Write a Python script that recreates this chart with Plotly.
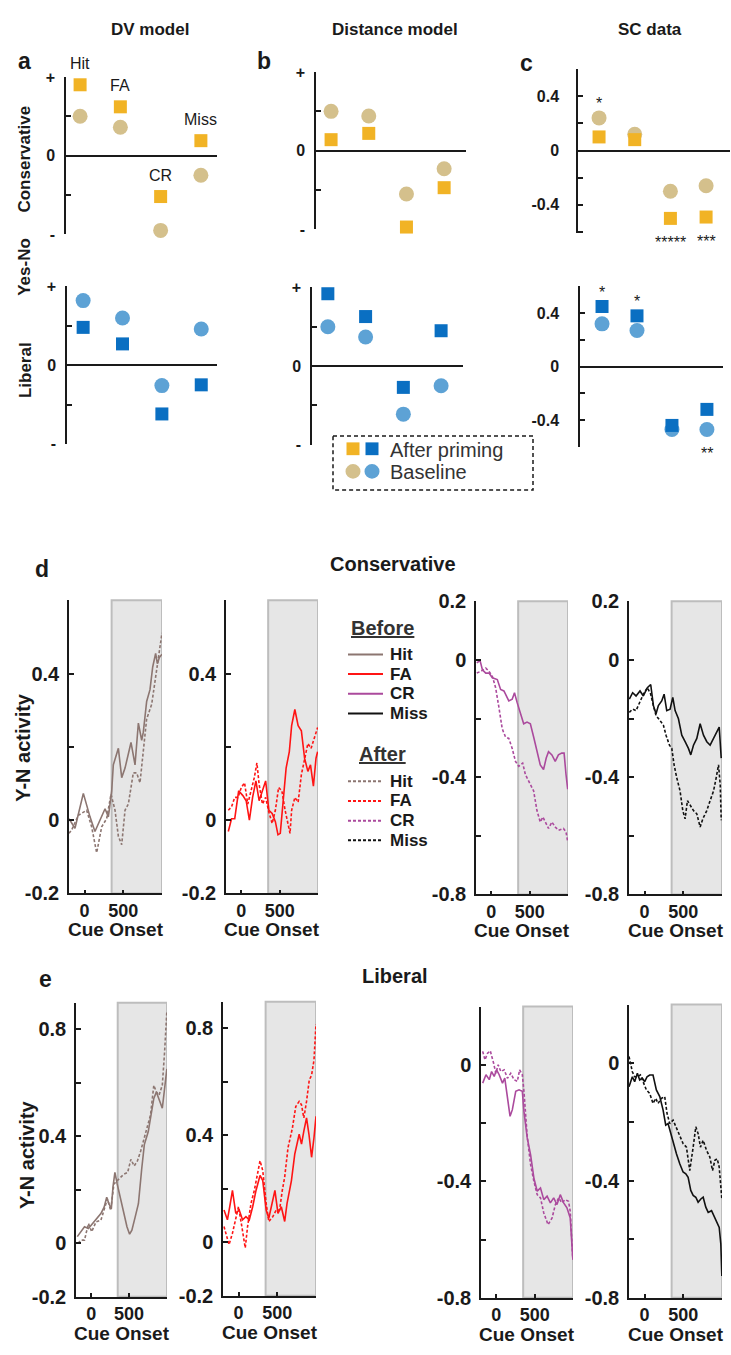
import plotly.graph_objects as go

W, H = 731, 1355
FONT = "Liberation Sans, Arial, Helvetica, sans-serif"
INK = "#1a1a1a"

# ---------------- top row data (relative Yes-No activity) ----------------
categories = ["Hit", "FA", "CR", "Miss"]
cat_pos = [1, 2, 3, 4]

dv_cons_after = [0.90, 0.62, -0.52, 0.19]
dv_cons_base = [0.50, 0.36, -0.95, -0.25]
dv_lib_after = [0.48, 0.27, -0.62, -0.25]
dv_lib_base = [0.82, 0.60, -0.26, 0.46]

dist_cons_after = [0.14, 0.22, -0.97, -0.47]
dist_cons_base = [0.50, 0.44, -0.55, -0.23]
dist_lib_after = [0.92, 0.63, -0.27, 0.45]
dist_lib_base = [0.50, 0.37, -0.61, -0.25]

sc_cons_after = [0.10, 0.08, -0.50, -0.49]
sc_cons_base = [0.24, 0.12, -0.30, -0.26]
sc_lib_after = [0.45, 0.38, -0.44, -0.32]
sc_lib_base = [0.32, 0.27, -0.47, -0.47]
sc_cons_stars = ["*", "", "*****", "***"]
sc_lib_stars = ["*", "*", "", "**"]

# ---------------- time courses (ms from cue onset, Y-N activity) ----------------
shade_start, shade_end = 350, 1000

cons_hit_before_t = [-200, -123, -15, 71, 135, 200, 265, 308, 351, 372, 415, 437, 480, 523, 600, 652, 695, 738, 759, 802, 845, 880, 918, 940, 966, 1000]
cons_hit_before_v = [0.004, -0.022, 0.073, 0.009, -0.031, 0.0, 0.031, 0.009, 0.08, 0.151, 0.182, 0.196, 0.116, 0.142, 0.212, 0.151, 0.265, 0.218, 0.24, 0.324, 0.356, 0.418, 0.455, 0.427, 0.444, 0.453]
cons_hit_after_t = [-200, -166, -80, 28, 92, 157, 222, 286, 342, 394, 437, 480, 523, 566, 630, 673, 716, 759, 802, 867, 910, 953, 1000]
cons_hit_after_v = [-0.036, -0.027, 0.013, 0.027, -0.018, -0.089, -0.018, 0.004, 0.071, 0.027, -0.044, -0.067, 0.027, 0.044, 0.129, 0.129, 0.102, 0.187, 0.276, 0.316, 0.382, 0.436, 0.511]

cons_fa_before_t = [-170, -128, -86, -35, 20, 63, 105, 147, 190, 232, 275, 317, 359, 402, 444, 478, 508, 542, 584, 626, 656, 698, 741, 783, 825, 868, 902, 940, 974, 995]
cons_fa_before_v = [-0.031, 0.004, 0.004, 0.08, 0.067, 0.053, 0.0, 0.062, 0.107, 0.053, 0.08, 0.107, 0.027, 0.018, -0.004, -0.04, -0.036, 0.036, 0.142, 0.187, 0.258, 0.302, 0.258, 0.244, 0.169, 0.133, 0.151, 0.093, 0.169, 0.187]
cons_fa_after_t = [-170, -128, -86, -43, -1, 42, 84, 126, 169, 203, 232, 275, 317, 359, 402, 444, 486, 529, 571, 635, 656, 698, 741, 783, 825, 868, 910, 953, 995]
cons_fa_after_v = [0.027, 0.036, 0.062, 0.062, 0.089, 0.102, 0.044, 0.08, 0.116, 0.156, 0.098, 0.044, 0.062, 0.022, -0.009, 0.027, 0.089, 0.08, 0.027, -0.036, 0.027, 0.062, 0.049, 0.124, 0.169, 0.209, 0.196, 0.222, 0.253]

cons_cr_before_t = [-190, -147, -116, -73, -30, 13, 78, 121, 164, 228, 272, 302, 336, 379, 422, 466, 509, 552, 595, 638, 681, 716, 746, 790, 833, 875, 918, 949, 974, 996]
cons_cr_before_v = [-0.01, -0.002, -0.034, -0.045, -0.045, -0.061, -0.067, -0.101, -0.106, -0.14, -0.134, -0.112, -0.145, -0.184, -0.218, -0.212, -0.218, -0.263, -0.313, -0.358, -0.374, -0.335, -0.313, -0.324, -0.346, -0.324, -0.318, -0.318, -0.391, -0.441]
cons_cr_after_t = [-190, -138, -73, -30, 13, 56, 99, 142, 185, 228, 272, 315, 358, 409, 444, 487, 517, 552, 595, 638, 672, 703, 746, 790, 833, 875, 940, 974, 996]
cons_cr_after_v = [-0.045, -0.039, -0.028, -0.039, -0.056, -0.095, -0.162, -0.235, -0.263, -0.268, -0.302, -0.346, -0.363, -0.352, -0.391, -0.413, -0.43, -0.447, -0.514, -0.553, -0.536, -0.553, -0.575, -0.553, -0.57, -0.581, -0.575, -0.587, -0.62]

cons_miss_before_t = [-196, -153, -109, -58, -15, 37, 80, 115, 149, 179, 222, 253, 287, 330, 365, 395, 438, 481, 524, 567, 597, 632, 675, 718, 761, 804, 847, 891, 934, 964, 990]
cons_miss_before_v = [-0.134, -0.112, -0.123, -0.106, -0.123, -0.095, -0.084, -0.156, -0.184, -0.156, -0.14, -0.117, -0.173, -0.168, -0.128, -0.173, -0.201, -0.257, -0.279, -0.302, -0.324, -0.291, -0.268, -0.218, -0.257, -0.279, -0.291, -0.268, -0.246, -0.229, -0.335]
cons_miss_after_t = [-196, -153, -109, -58, -15, 37, 80, 115, 149, 201, 244, 278, 322, 352, 382, 416, 459, 494, 524, 554, 589, 632, 675, 718, 753, 804, 847, 891, 925, 955, 977, 990]
cons_miss_after_v = [-0.179, -0.168, -0.173, -0.14, -0.117, -0.095, -0.117, -0.156, -0.19, -0.207, -0.223, -0.257, -0.291, -0.302, -0.358, -0.402, -0.447, -0.514, -0.542, -0.48, -0.497, -0.514, -0.525, -0.57, -0.542, -0.514, -0.48, -0.447, -0.402, -0.358, -0.425, -0.547]

lib_hit_before_t = [-183, -131, -88, -36, 20, 84, 128, 171, 205, 235, 266, 287, 313, 343, 386, 429, 472, 507, 537, 580, 623, 666, 701, 753, 796, 826, 860, 895, 938, 968, 998]
lib_hit_before_v = [0.025, 0.043, 0.062, 0.055, 0.074, 0.098, 0.111, 0.135, 0.172, 0.148, 0.129, 0.209, 0.265, 0.222, 0.172, 0.111, 0.062, 0.034, 0.049, 0.098, 0.148, 0.277, 0.369, 0.418, 0.492, 0.542, 0.566, 0.535, 0.505, 0.578, 0.652]
lib_hit_after_t = [-174, -131, -88, -36, 7, 63, 128, 179, 214, 257, 300, 343, 386, 429, 481, 524, 567, 610, 653, 697, 740, 783, 826, 860, 895, 938, 968, 998]
lib_hit_after_v = [0.0, 0.012, 0.012, 0.074, 0.043, 0.08, 0.086, 0.129, 0.166, 0.123, 0.222, 0.234, 0.246, 0.258, 0.265, 0.314, 0.289, 0.308, 0.345, 0.394, 0.443, 0.48, 0.591, 0.566, 0.554, 0.591, 0.714, 0.868]

lib_fa_before_t = [-187, -143, -113, -78, -35, 9, 52, 96, 139, 183, 226, 278, 313, 357, 391, 422, 470, 509, 552, 596, 626, 683, 726, 783, 813, 843, 878, 909, 943, 974, 1000]
lib_fa_before_v = [0.121, 0.084, 0.133, 0.194, 0.108, 0.121, 0.084, 0.096, 0.084, 0.133, 0.194, 0.25, 0.231, 0.121, 0.09, 0.133, 0.194, 0.108, 0.133, 0.078, 0.145, 0.231, 0.33, 0.404, 0.367, 0.416, 0.465, 0.404, 0.318, 0.391, 0.471]
lib_fa_after_t = [-187, -157, -122, -78, -35, 0, 43, 87, 117, 161, 204, 248, 278, 313, 357, 391, 443, 487, 530, 565, 596, 639, 696, 739, 783, 813, 843, 878, 913, 943, 974, 1000]
lib_fa_after_v = [0.059, 0.022, -0.009, 0.034, 0.096, 0.133, 0.059, -0.021, 0.059, 0.145, 0.194, 0.268, 0.305, 0.268, 0.145, 0.078, 0.096, 0.121, 0.121, 0.194, 0.244, 0.354, 0.428, 0.508, 0.527, 0.514, 0.465, 0.527, 0.607, 0.625, 0.681, 0.816]

lib_cr_before_t = [-178, -135, -92, -62, -28, 3, 37, 80, 110, 145, 179, 209, 253, 296, 339, 360, 403, 447, 490, 533, 576, 619, 662, 705, 748, 791, 834, 878, 921, 964, 998]
lib_cr_before_v = [-0.063, -0.034, -0.051, -0.023, -0.04, -0.017, -0.034, -0.063, -0.046, -0.114, -0.177, -0.154, -0.091, -0.086, -0.091, -0.16, -0.251, -0.309, -0.389, -0.434, -0.423, -0.463, -0.451, -0.474, -0.457, -0.48, -0.446, -0.474, -0.491, -0.526, -0.669]
lib_cr_after_t = [-178, -148, -114, -79, -36, -6, 24, 59, 102, 145, 188, 231, 274, 304, 339, 360, 403, 447, 490, 533, 576, 619, 675, 727, 770, 813, 856, 899, 942, 964, 998]
lib_cr_after_v = [0.046, 0.017, 0.04, 0.048, 0.006, -0.029, 0.0, -0.023, -0.017, -0.046, -0.029, -0.051, -0.057, -0.017, -0.034, -0.091, -0.246, -0.343, -0.4, -0.446, -0.457, -0.509, -0.549, -0.526, -0.48, -0.457, -0.474, -0.463, -0.469, -0.503, -0.669]

lib_miss_before_t = [-200, -157, -127, -92, -62, -28, 3, 33, 67, 110, 153, 197, 240, 274, 304, 334, 369, 412, 455, 498, 533, 563, 597, 628, 662, 692, 727, 757, 791, 822, 865, 908, 938, 964, 985, 998]
lib_miss_before_v = [-0.08, -0.046, -0.063, -0.034, -0.057, -0.051, -0.063, -0.046, -0.04, -0.04, -0.091, -0.114, -0.16, -0.211, -0.206, -0.234, -0.274, -0.309, -0.343, -0.371, -0.377, -0.389, -0.434, -0.451, -0.457, -0.474, -0.463, -0.457, -0.491, -0.509, -0.503, -0.526, -0.543, -0.56, -0.617, -0.726]
lib_miss_after_t = [-200, -157, -127, -92, -53, -19, 24, 67, 110, 145, 175, 218, 261, 291, 326, 369, 412, 455, 498, 541, 584, 628, 662, 692, 722, 757, 800, 843, 878, 908, 938, 964, 985, 998]
lib_miss_after_v = [0.023, -0.029, -0.046, -0.046, -0.04, -0.063, -0.091, -0.103, -0.137, -0.12, -0.137, -0.12, -0.114, -0.171, -0.206, -0.194, -0.223, -0.251, -0.274, -0.286, -0.366, -0.286, -0.217, -0.24, -0.286, -0.263, -0.297, -0.32, -0.366, -0.331, -0.326, -0.354, -0.411, -0.463]

# ---------------- styles ----------------
ORANGE, TAN = "#F1B325", "#D4C08C"
BLUE, LBLUE = "#0A6FC2", "#5DA2D5"
HIT_C, FA_C, CR_C, MISS_C = "#8C7671", "#FF1414", "#AB4A9D", "#111111"
DASH = "3px,2px"


def xd(x0, x1):
    return [x0 / W, x1 / W]


def yd(y0, y1):
    return [1 - y1 / H, 1 - y0 / H]


def px(x, y):
    return x / W, 1 - y / H


fig = go.Figure()
lay = {}
shapes = []
anns = []


def text(t, x, y, size, bold=True, xanchor="center", angle=0, color=INK, yanchor="middle"):
    xx, yy = px(x, y)
    anns.append(dict(text=t, x=xx, y=yy, xref="paper", yref="paper", showarrow=False,
                     xanchor=xanchor, yanchor=yanchor, textangle=angle, borderpad=0,
                     font=dict(family=FONT, size=size, color=color,
                               weight="bold" if bold else "normal")))


# ---------------- top row panels ----------------
pm_tv, pm_tt = [-1, -0.5, 0, 0.5, 1], ["-", "", "0", "", "+"]
sc_tv, sc_tt = [-0.6, -0.4, -0.2, 0, 0.2, 0.4, 0.6], ["", "-0.4", "", "0", "", "0.4", ""]

top_specs = [
    (1, dv_cons_after, dv_cons_base, ORANGE, TAN, (66, 217), (67, 227), [0.65, 4.4], [-1, 1], pm_tv, pm_tt, 6),
    (2, dv_lib_after, dv_lib_base, BLUE, LBLUE, (67, 217), (280, 440), [0.59, 4.4], [-1, 1], pm_tv, pm_tt, 6),
    (3, dist_cons_after, dist_cons_base, ORANGE, TAN, (316, 466), (62, 222), [0.6, 4.58], [-1, 1], pm_tv, pm_tt, 6),
    (4, dist_lib_after, dist_lib_base, BLUE, LBLUE, (312, 463), (281, 441), [0.58, 4.58], [-1, 1], pm_tv, pm_tt, 6),
    (5, sc_cons_after, sc_cons_base, ORANGE, TAN, (578, 730), (59, 226), [0.41, 4.67], [-0.61, 0.6], sc_tv, sc_tt, 14),
    (6, sc_lib_after, sc_lib_base, BLUE, LBLUE, (580, 723), (280, 443), [0.37, 4.46], [-0.6, 0.6], sc_tv, sc_tt, 16),
]

for n, after, base, csq, ccirc, xp, yp, xr, yr, tv, tt, stand in top_specs:
    sfx = "" if n == 1 else str(n)
    fig.add_trace(go.Scatter(x=cat_pos, y=base, mode="markers", xaxis="x" + sfx, yaxis="y" + sfx,
                             cliponaxis=False,
                             marker=dict(symbol="circle", size=15, color=ccirc), showlegend=False))
    fig.add_trace(go.Scatter(x=cat_pos, y=after, mode="markers", xaxis="x" + sfx, yaxis="y" + sfx,
                             cliponaxis=False,
                             marker=dict(symbol="square", size=13, color=csq), showlegend=False))
    lay["xaxis" + sfx] = dict(domain=xd(*xp), range=xr, visible=False, anchor="y" + sfx, fixedrange=True)
    lay["yaxis" + sfx] = dict(domain=yd(*yp), range=yr, anchor="x" + sfx, showline=True, linecolor=INK,
                              linewidth=1.5, ticks="inside", ticklen=5, tickwidth=1.5, tickcolor=INK,
                              tickvals=tv, ticktext=tt, ticklabelstandoff=stand,
                              tickfont=dict(family=FONT, size=16, color=INK, weight="bold"),
                              zeroline=True, zerolinecolor=INK, zerolinewidth=1.5, showgrid=False)

# category labels in panel a
for i, c in enumerate(categories):
    anns.append(dict(text=c, x=cat_pos[i], y=max(dv_cons_after[i], dv_cons_base[i]), xref="x", yref="y",
                     showarrow=False, yshift=21, font=dict(family=FONT, size=16, color=INK)))

# significance stars in panel c
for n, stars, after, base in [(5, sc_cons_stars, sc_cons_after, sc_cons_base),
                              (6, sc_lib_stars, sc_lib_after, sc_lib_base)]:
    for i, s in enumerate(stars):
        if not s:
            continue
        up = after[i] > 0
        yv = max(after[i], base[i]) if up else min(after[i], base[i])
        anns.append(dict(text=s, x=cat_pos[i], y=yv, xref="x%d" % n, yref="y%d" % n, showarrow=False,
                         yshift=14 if up else -24, font=dict(family=FONT, size=16, color=INK)))

# ---------------- time-course panels ----------------
cons_tv_hf, cons_tt_hf = [-0.2, 0, 0.2, 0.4, 0.6], ["-0.2", "0", "", "0.4", ""]
neg_tv, neg_tt = [-0.8, -0.6, -0.4, -0.2, 0, 0.2], ["-0.8", "", "-0.4", "", "0", "0.2"]
lib_tv_hf, lib_tt_hf = [-0.2, 0, 0.2, 0.4, 0.6, 0.8, 0.9], ["-0.2", "0", "", "0.4", "", "0.8", ""]
lib_neg_tt = ["-0.8", "", "-0.4", "", "0", ""]

ts_specs = [
    (7, cons_hit_before_t, cons_hit_before_v, cons_hit_after_t, cons_hit_after_v, HIT_C, (69, 162), (599, 897), [-0.2, 0.6], cons_tv_hf, cons_tt_hf),
    (8, cons_fa_before_t, cons_fa_before_v, cons_fa_after_t, cons_fa_after_v, FA_C, (226, 318), (599, 897), [-0.2, 0.6], cons_tv_hf, cons_tt_hf),
    (9, cons_cr_before_t, cons_cr_before_v, cons_cr_after_t, cons_cr_after_v, CR_C, (476, 568), (600, 898), [-0.8, 0.2], neg_tv, neg_tt),
    (10, cons_miss_before_t, cons_miss_before_v, cons_miss_after_t, cons_miss_after_v, MISS_C, (629, 722), (600, 898), [-0.8, 0.2], neg_tv, neg_tt),
    (11, lib_hit_before_t, lib_hit_before_v, lib_hit_after_t, lib_hit_after_v, HIT_C, (76, 167), (1008, 1307), [-0.2, 0.9], lib_tv_hf, lib_tt_hf),
    (12, lib_fa_before_t, lib_fa_before_v, lib_fa_after_t, lib_fa_after_v, FA_C, (223, 316), (1007, 1306), [-0.2, 0.9], lib_tv_hf, lib_tt_hf),
    (13, lib_cr_before_t, lib_cr_before_v, lib_cr_after_t, lib_cr_after_v, CR_C, (481, 573), (1012, 1308), [-0.8, 0.2], neg_tv, lib_neg_tt),
    (14, lib_miss_before_t, lib_miss_before_v, lib_miss_after_t, lib_miss_after_v, MISS_C, (629, 722), (1010, 1308), [-0.8, 0.2], neg_tv, lib_neg_tt),
]

for n, bt, bv, at, av, col, xp, yp, yr, tv, tt in ts_specs:
    sfx = str(n)
    fig.add_trace(go.Scatter(x=at, y=av, mode="lines", xaxis="x" + sfx, yaxis="y" + sfx,
                             line=dict(color=col, width=1.6, dash=DASH), showlegend=False))
    fig.add_trace(go.Scatter(x=bt, y=bv, mode="lines", xaxis="x" + sfx, yaxis="y" + sfx,
                             line=dict(color=col, width=1.6), showlegend=False))
    lay["xaxis" + sfx] = dict(domain=xd(*xp), range=[-200, 1000], anchor="y" + sfx, showline=True,
                              linecolor=INK, linewidth=1.5, ticks="inside", ticklen=4, tickwidth=1.5,
                              tickcolor=INK, tickvals=[0, 500], ticktext=["0", "500"], ticklabelstandoff=0,
                              tickfont=dict(family=FONT, size=18, color=INK, weight="bold"),
                              showgrid=False, zeroline=False)
    lay["yaxis" + sfx] = dict(domain=yd(*yp), range=yr, anchor="x" + sfx, showline=True, linecolor=INK,
                              linewidth=1.5, ticks="inside", ticklen=5, tickwidth=1.5, tickcolor=INK,
                              tickvals=tv, ticktext=tt, ticklabelstandoff=4,
                              tickfont=dict(family=FONT, size=20, color=INK, weight="bold"),
                              showgrid=False, zeroline=False)
    shapes.append(dict(type="rect", xref="x" + sfx, yref="y%s domain" % sfx, x0=shade_start, x1=shade_end,
                       y0=0, y1=1, fillcolor="#E6E6E6", line=dict(color="#BDBDBD", width=2), layer="below"))
    cx = (xp[0] + xp[1]) / 2
    text("Cue Onset", min(cx, 678), yp[1] + 37, 19)

# ---------------- text ----------------
text("DV model", 150, 19, 17)
text("Distance model", 395, 19, 17)
text("SC data", 650, 19, 17)
text("a", 24, 51, 23)
text("b", 264, 51, 23)
text("c", 526, 53, 23)
text("d", 42, 567, 23)
text("e", 45, 984, 23)
text("Conservative", 25, 151, 17, angle=-90)
text("Yes-No", 25, 260, 17, angle=-90)
text("Liberal", 25, 365, 17, angle=-90)
text("Y-N activity", 23, 749, 20, angle=-90)
text("Y-N activity", 27, 1163, 20, angle=-90)
text("Conservative", 393, 562, 20)
text("Liberal", 395, 981, 20)

# top legend (dashed box)
x0, y0 = px(333, 432)
x1, y1 = px(533, 487)
shapes.append(dict(type="rect", xref="paper", yref="paper", x0=x0, x1=x1, y0=y0, y1=y1,
                   line=dict(color=INK, width=1.5, dash="4px,3px"), fillcolor="rgba(0,0,0,0)"))
for cxp, col in [(353, ORANGE), (372, BLUE)]:
    a0, b0 = px(cxp - 6.5, 438.5)
    a1, b1 = px(cxp + 6.5, 451.5)
    shapes.append(dict(type="rect", xref="paper", yref="paper", x0=a0, x1=a1, y0=b0, y1=b1,
                       fillcolor=col, line=dict(width=0)))
for cxp, col in [(353, TAN), (372, LBLUE)]:
    a0, b0 = px(cxp - 7.5, 460.5)
    a1, b1 = px(cxp + 7.5, 475.5)
    shapes.append(dict(type="circle", xref="paper", yref="paper", x0=a0, x1=a1, y0=b0, y1=b1,
                       fillcolor=col, line=dict(width=0)))
text("After priming", 389, 446, 20, bold=False, xanchor="left", color="#333333")
text("Baseline", 389, 469, 20, bold=False, xanchor="left", color="#333333")

# time-course legend
legend_colors = [HIT_C, FA_C, CR_C, MISS_C]
text("<u>Before</u>", 383, 627, 20, color="#333333")
text("<u>After</u>", 382, 755, 20, color="#333333")
for ys, dash in [([654, 674, 694, 714], None), ([783, 803, 823, 843], DASH)]:
    for yy, c, col in zip(ys, categories, legend_colors):
        a0, b0 = px(348, yy)
        a1, _ = px(383, yy)
        shapes.append(dict(type="line", xref="paper", yref="paper", x0=a0, x1=a1, y0=b0, y1=b0,
                           line=dict(color=col, width=2, dash=dash) if dash else dict(color=col, width=2)))
        text(c, 389, yy, 17, xanchor="left")

fig.update_layout(width=W, height=H, margin=dict(l=0, r=0, t=0, b=0), paper_bgcolor="white",
                  plot_bgcolor="white", showlegend=False, shapes=shapes, annotations=anns,
                  font=dict(family=FONT, color=INK), **lay)
fig.write_html("out.html", config={"displayModeBar": False},
               post_script="document.documentElement.style.margin='0';document.body.style.margin='0';"
                           "document.body.style.padding='0';document.documentElement.style.overflow='hidden';")
